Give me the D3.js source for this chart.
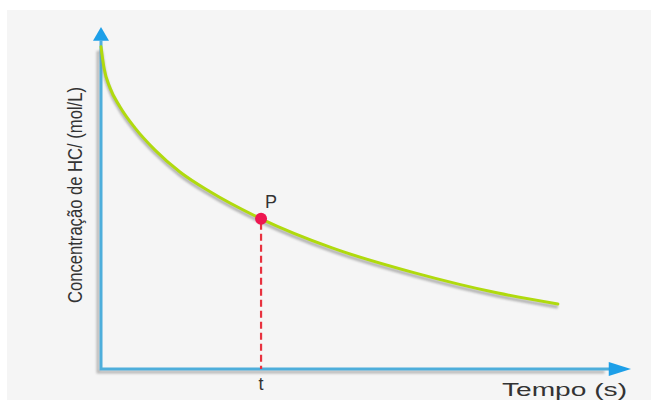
<!DOCTYPE html>
<html><head><meta charset="utf-8">
<script src="https://cdn.jsdelivr.net/npm/d3@7"></script>
<style>html,body{margin:0;padding:0;background:#fff;}svg{display:block;}</style>
</head><body>
<script>
// Data (arbitrary units, 0–100)
const tempo = [0, 0.57, 1.7, 3.6, 6.4, 10.2, 14.9, 20.6, 30.2, 43.6, 59.2, 74.9, 86.2];
const concentracao = [94.2, 88.0, 82.2, 76.6, 70.5, 64.0, 57.6, 51.8, 43.9, 35.4, 28.1, 22.2, 19.0];
const pointP = {t: 30.2, c: 43.9, label: "P", tickLabel: "t"};
const xLabel = "Tempo (s)";
const yLabel = "Concentração de HC/ (mol/L)";

const W = 651, H = 400;
const svg = d3.select("body").append("svg").attr("width", W).attr("height", H);

svg.append("rect").attr("x", 7).attr("y", 10).attr("width", W - 7).attr("height", H - 10).attr("fill", "#f5f5f5");

const defs = svg.append("defs");
defs.append("filter").attr("id", "blur").attr("x", "-10%").attr("y", "-10%").attr("width", "120%").attr("height", "120%")
  .append("feGaussianBlur").attr("stdDeviation", 1.2);

const x = d3.scaleLinear().domain([0, 100]).range([101, 631]);
const y = d3.scaleLinear().domain([0, 100]).range([369, 27]);

const x0 = x(0), y0 = y(0);
const font = "Liberation Sans, Arial, sans-serif";

// axis shadows
svg.append("path").attr("d", `M${x0 - 3},${y(93)}V${y0 + 3}H${x(95)}`)
  .attr("fill", "none").attr("stroke", "#b8b8b8").attr("stroke-width", 3).attr("filter", "url(#blur)");

// axes
svg.append("path").attr("d", `M${x0},${y(96)}V${y0}H${x(96)}`)
  .attr("fill", "none").attr("stroke", "#4eaedb").attr("stroke-width", 3);

// arrowheads
svg.append("path").attr("d", `M${x0},${y(100)}L${x0 + 8},${y(96)}L${x0 - 8},${y(96)}Z`).attr("fill", "#1d9fe8");
svg.append("path").attr("d", `M${x(100)},${y0}L${x(95.8)},${y0 - 7}L${x(95.8)},${y0 + 7}Z`).attr("fill", "#1d9fe8");

const data = tempo.map((t, i) => ({t, c: concentracao[i]}));
const line = d3.line().x(d => x(d.t)).y(d => y(d.c)).curve(d3.curveMonotoneX);

// curve shadow
svg.append("path").datum(data).attr("d", line).attr("transform", "translate(0,3)")
  .attr("fill", "none").attr("stroke", "#8a8a8a").attr("stroke-width", 3.5).attr("opacity", 0.6).attr("filter", "url(#blur)");
// curve
svg.append("path").datum(data).attr("d", line)
  .attr("fill", "none").attr("stroke", "#b0da0e").attr("stroke-width", 3).attr("stroke-linecap", "round");

// dashed drop line
svg.append("line").attr("x1", x(pointP.t)).attr("x2", x(pointP.t)).attr("y1", y(pointP.c) + 4).attr("y2", y0)
  .attr("stroke", "#e8323f").attr("stroke-width", 2.2).attr("stroke-dasharray", "7,4");

// point P
svg.append("circle").attr("cx", x(pointP.t)).attr("cy", y(pointP.c)).attr("r", 6).attr("fill", "#ee1650");
svg.append("text").attr("x", x(pointP.t) + 4).attr("y", y(pointP.c) - 11)
  .attr("font-family", font).attr("font-size", 18).attr("fill", "#333").text(pointP.label);

// tick label t
svg.append("text").attr("x", x(pointP.t)).attr("y", y0 + 21).attr("text-anchor", "middle")
  .attr("font-family", font).attr("font-size", 18).attr("fill", "#333").text(pointP.tickLabel);

// x label
svg.append("text").attr("x", 627).attr("y", 396).attr("text-anchor", "end")
  .attr("font-family", font).attr("font-size", 18).attr("textLength", 125).attr("lengthAdjust", "spacingAndGlyphs")
  .attr("fill", "#333").text(xLabel);

// y label
svg.append("text").attr("transform", `translate(82,${(87 + 303) / 2}) rotate(-90)`).attr("text-anchor", "middle")
  .attr("font-family", font).attr("font-size", 21)
  .attr("textLength", 216).attr("lengthAdjust", "spacingAndGlyphs").attr("fill", "#333").text(yLabel);
</script>
</body></html>
